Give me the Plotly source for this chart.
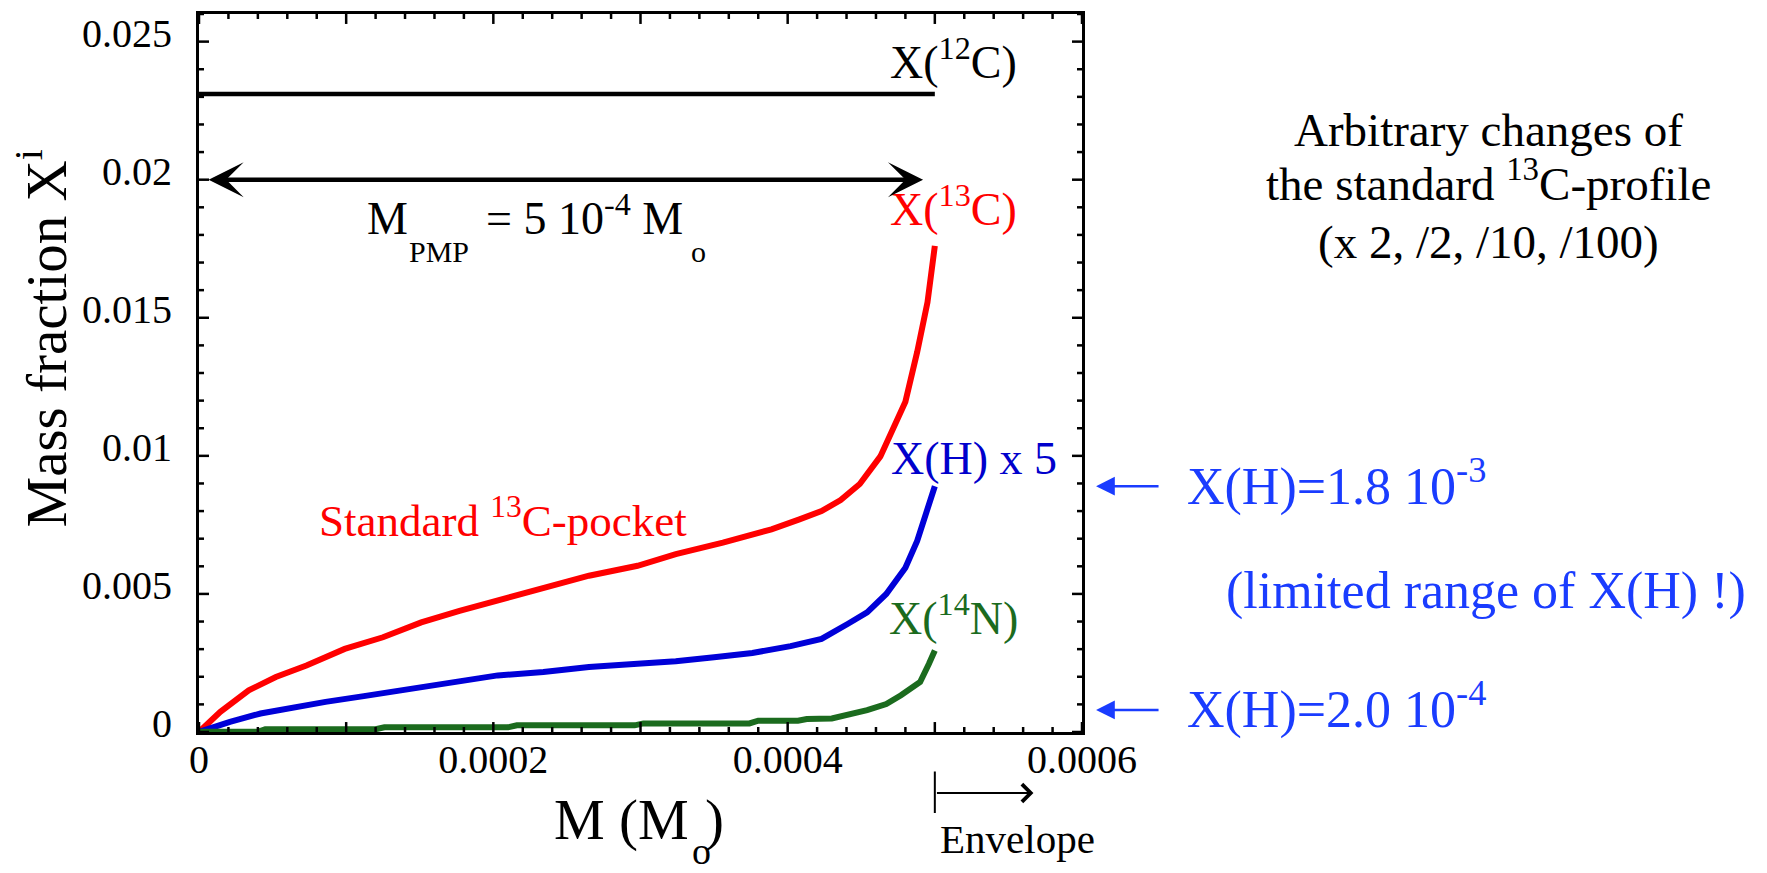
import plotly.graph_objects as go

# ---- data -------------------------------------------------------------
# 12C abundance (flat across the pocket)
mass_c12 = [0.0, 0.0005]
x_c12 = [0.0231, 0.0231]

# 13C profile of the standard pocket
mass_c13 = [0.0, 0.0000145, 0.0000338, 0.0000522, 0.000073, 0.000099, 0.000125,
            0.000151, 0.000177, 0.000203, 0.000234, 0.000265, 0.000298, 0.000324,
            0.000356, 0.000389, 0.000408, 0.000423, 0.000436, 0.000449, 0.000463,
            0.000472, 0.00048, 0.000488, 0.000492, 0.000495, 0.0005]
x_c13 = [0.0, 0.00073, 0.00151, 0.00199, 0.00241, 0.00301, 0.00343,
         0.00397, 0.00439, 0.00476, 0.00523, 0.00566, 0.00602, 0.00644,
         0.00686, 0.00734, 0.0077, 0.008, 0.0084, 0.00898, 0.00998,
         0.0110, 0.01196, 0.01376, 0.01496, 0.01556, 0.0176]

# hydrogen profile, multiplied by 5
mass_h = [0.0, 0.000021, 0.0000418, 0.00006, 0.000086, 0.000112, 0.000138,
          0.000164, 0.000203, 0.000234, 0.000265, 0.000298, 0.000324, 0.00035,
          0.000376, 0.000402, 0.000423, 0.000441, 0.000454, 0.000467, 0.00048,
          0.000488, 0.000493, 0.000497, 0.0005]
x_h5 = [0.0, 0.00037, 0.00067, 0.00085, 0.00109, 0.0013, 0.00151,
        0.00175, 0.00205, 0.00217, 0.00235, 0.00247, 0.00256, 0.00271,
        0.00286, 0.00311, 0.00337, 0.00392, 0.00433, 0.005, 0.00595,
        0.00692, 0.00776, 0.00836, 0.0089]

# 14N profile
mass_n14 = [0.0, 0.00004, 0.000045, 0.00012, 0.000126, 0.00021, 0.000216,
            0.000296, 0.000302, 0.000374, 0.00038, 0.000407, 0.000413, 0.00043,
            0.000454, 0.000467, 0.000477, 0.00049, 0.000496, 0.0005]
x_n14 = [0.00001, 0.00001, 0.0001, 0.0001, 0.00017, 0.00017, 0.00024,
         0.00024, 0.00031, 0.00031, 0.00041, 0.00041, 0.00047, 0.00049,
         0.00079, 0.00101, 0.00133, 0.00181, 0.00247, 0.00295]

# pocket extent and the two marked hydrogen levels (x 5 scale)
m_pmp = 0.0005
xh_high = 0.0089
xh_low = 0.0008

# axes
x_range = [0, 0.0006]
y_range = [0, 0.026]
x_tick_text = ["0", "", "0.0002", "", "0.0004", "", "0.0006"]
y_tick_text = ["0", "0.005", "0.01", "0.015", "0.02", "0.025"]
x_major_step, x_minor_step = 0.0001, 0.00002
y_major_step, y_minor_step = 0.005, 0.001

# ---- figure geometry ---------------------------------------------------
W, H = 1767, 873
M_L, M_R, M_T, M_B = 199, 685, 11, 141
plot_w, plot_h = W - M_L - M_R, H - M_T - M_B
px_x = (x_range[1] - x_range[0]) / plot_w   # data units per pixel
px_y = (y_range[1] - y_range[0]) / plot_h
MAJOR_LEN, MINOR_LEN = 10, 5
MINOR_PER_MAJOR = 5

x_major = [round(i * x_major_step, 8) for i in range(len(x_tick_text))]
y_major = [round(i * y_major_step, 8) for i in range(len(y_tick_text))]

n_x = int(round((x_range[1] - x_range[0]) / x_minor_step))
n_y = int(round((y_range[1] - y_range[0]) / y_minor_step))

# inside ticks on the x axis (bottom and top edges)
xt_x, xt_y = [], []
for i in range(n_x + 1):
    v = round(i * x_minor_step, 8)
    ln = MAJOR_LEN if i % MINOR_PER_MAJOR == 0 else MINOR_LEN
    xt_x += [v, v, None, v, v, None]
    xt_y += [y_range[0], y_range[0] + ln * px_y, None,
             y_range[1], y_range[1] - ln * px_y, None]

# inside ticks on the y axis (left and right edges)
yt_x, yt_y = [], []
for i in range(n_y + 1):
    v = round(i * y_minor_step, 8)
    ln = MAJOR_LEN if i % MINOR_PER_MAJOR == 0 else MINOR_LEN
    yt_x += [x_range[0], x_range[0] + ln * px_x, None,
             x_range[1], x_range[1] - ln * px_x, None]
    yt_y += [v, v, None, v, v, None]

SERIF = "Liberation Serif, Times New Roman, serif"
RED = "#FF0000"
BLUE = "#0000D8"
BLUE_LABEL = "#0000CC"
BLUE_NOTE = "#1A3CFF"
GREEN = "#1B6B1E"

fig = go.Figure()
fig.add_trace(go.Scatter(x=mass_c12, y=x_c12, mode="lines",
                         line=dict(color="black", width=4.5)))
fig.add_trace(go.Scatter(x=mass_c13, y=x_c13, mode="lines",
                         line=dict(color=RED, width=6)))
fig.add_trace(go.Scatter(x=mass_h, y=x_h5, mode="lines",
                         line=dict(color=BLUE, width=6)))
fig.add_trace(go.Scatter(x=mass_n14, y=x_n14, mode="lines",
                         line=dict(color=GREEN, width=6)))
# tick marks on all four sides
fig.add_trace(go.Scatter(x=xt_x + yt_x, y=xt_y + yt_y, mode="lines",
                         line=dict(color="black", width=2.5),
                         hoverinfo="skip", connectgaps=False))

frame = dict(showline=True, linewidth=3, linecolor="black", mirror=True,
             ticks="", showgrid=False, zeroline=False)
tickfont = dict(family=SERIF, size=40, color="black")

fig.update_layout(
    xaxis=dict(range=x_range, tickmode="array", tickvals=x_major, ticktext=x_tick_text,
               ticklabelstandoff=-10, tickfont=tickfont, **frame),
    yaxis=dict(range=y_range, tickmode="array", tickvals=y_major, ticktext=y_tick_text,
               ticklabelstandoff=16, ticklabelshift=-9, tickfont=tickfont, **frame),
)

ann = []


def label(text, x, y, size, color, xref="x", yref="y", xanchor="center",
          yanchor="bottom", **kw):
    ann.append(dict(text=text, x=x, y=y, xref=xref, yref=yref, xanchor=xanchor,
                    yanchor=yanchor, showarrow=False, borderpad=0, borderwidth=0,
                    font=dict(family=SERIF, size=size, color=color), **kw))


# curve labels
label("X(<sup>12</sup>C)", 0.0005124, 0.02333, 46, "black")
label("X(<sup>13</sup>C)", 0.0005124, 0.01798, 46, RED)
label("X(H) x 5", 0.0005263, 0.00897, 46, BLUE_LABEL)
label("X(<sup>14</sup>N)", 0.000513, 0.00320, 46, GREEN)
label("Standard <sup>13</sup>C-pocket", 0.0002066, 0.00675, 45, RED)

# pocket mass, with low-set subscripts
label("M", 0.0001142, 0.01767, 46, "black", xanchor="left")
label("PMP", 0.0001430, 0.01679, 30, "black", xanchor="left")
label("= 5 10<sup>-4</sup> M", 0.0001950, 0.01767, 46, "black", xanchor="left")
label("o", 0.0003341, 0.01679, 30, "black", xanchor="left")

# axis titles
label("M (M", 0.0002412, -0.1669, 57, "black", yref="paper", xanchor="left")
label("o", 0.0003348, -0.1956, 38, "black", yref="paper", xanchor="left")
label(")", 0.0003438, -0.1669, 57, "black", yref="paper", xanchor="left")
label("Mass fraction X<sup>i</sup>", -0.1778, 0.548, 57, "black",
      xref="paper", yref="paper", yanchor="middle", textangle=-90)

# envelope marker below the axis
label("Envelope", m_pmp + 0.0000036, -0.1806, 41, "black", yref="paper", xanchor="left")
ann.append(dict(x=m_pmp, y=-0.055, xref="x", yref="paper", ax=0, ay=43,
                showarrow=True, arrowhead=0, arrowwidth=2, arrowcolor="black", text=""))
ann.append(dict(x=0.000567, y=-0.085, xref="x", yref="paper", ax=-98, ay=0,
                showarrow=True, arrowhead=4, arrowsize=1.7, arrowwidth=2,
                arrowcolor="black", text=""))

# double arrow spanning the pocket mass
ann.append(dict(x=0.000492, y=0.02, xref="x", yref="y",
                ax=0.0000055, ay=0.02, axref="x", ayref="y",
                showarrow=True, arrowside="end+start", arrowhead=3, startarrowhead=3,
                arrowsize=1.3, startarrowsize=1.3, arrowwidth=4.5,
                arrowcolor="black", text="", standoff=0, startstandoff=0))

# notes on the right
label("Arbitrary changes of", 1.46, 0.8027, 47, "black", xref="paper", yref="paper")
label("the standard <sup>13</sup>C-profile", 1.46, 0.7264, 47, "black", xref="paper", yref="paper")
label("(x 2, /2, /10, /100)", 1.46, 0.6460, 47, "black", xref="paper", yref="paper")

label("X(H)=1.8 10<sup>-3</sup>", 1.119, 0.00784, 52, BLUE_NOTE, xref="paper", xanchor="left")
label("(limited range of X(H) !)", 1.163, 0.00407, 52, BLUE_NOTE, xref="paper", xanchor="left")
label("X(H)=2.0 10<sup>-4</sup>", 1.119, -0.0100, 52, BLUE_NOTE,
      xref="paper", yref="paper", xanchor="left")

for yv in (xh_high, xh_low):
    ann.append(dict(x=1.0159, y=yv, xref="paper", yref="y", ax=64, ay=0,
                    showarrow=True, arrowhead=2, arrowsize=1.5, arrowwidth=2.5,
                    arrowcolor=BLUE_NOTE, text=""))

fig.update_layout(
    width=W, height=H,
    margin=dict(l=M_L, r=M_R, t=M_T, b=M_B),
    paper_bgcolor="white", plot_bgcolor="white",
    showlegend=False,
    annotations=ann,
    font=dict(family=SERIF, color="black"),
)

fig.write_html("out.html")
